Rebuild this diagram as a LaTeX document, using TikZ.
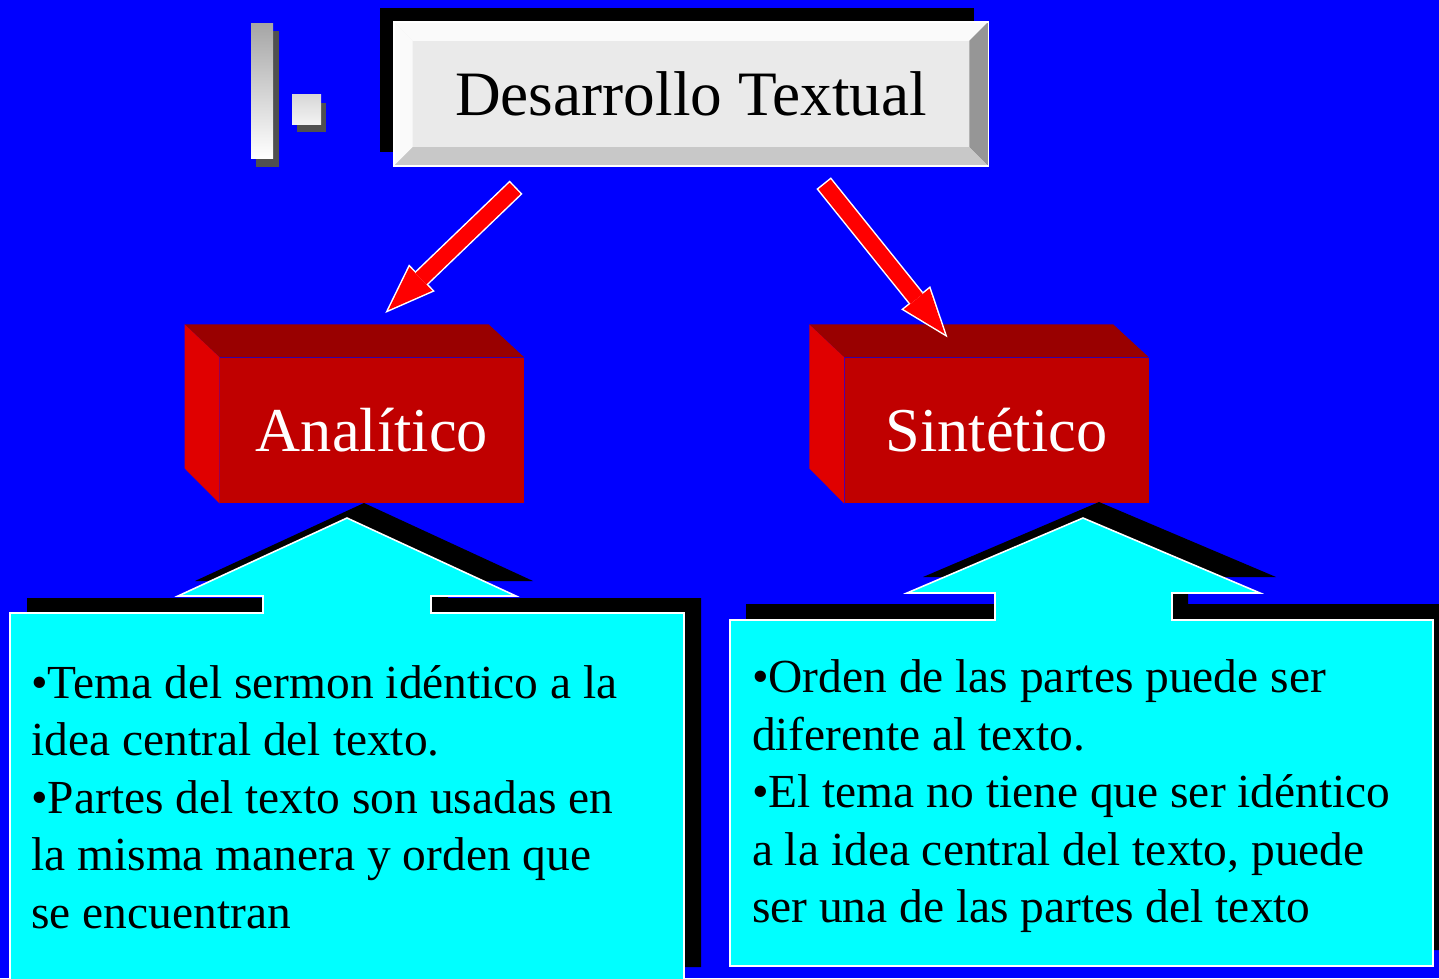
\documentclass[tikz,border=0pt]{standalone}
\usepackage{fontspec}
\setmainfont{Liberation Serif}
\usetikzlibrary{arrows.meta,positioning,calc,shadows}
\definecolor{SlideBlue} {RGB}{0,  0,  255}
\definecolor{BoxTop}    {RGB}{153,0,  0}
\definecolor{BoxSide}   {RGB}{224,0,  0}
\definecolor{BoxFront}  {RGB}{192,0,  0}
\definecolor{NoteCyan}  {RGB}{0,  255,255}
\definecolor{PlateFace} {RGB}{234,234,234}
\definecolor{BevelLight}{RGB}{250,250,250}
\definecolor{BevelLow}  {RGB}{200,200,200}
\definecolor{BevelDark} {RGB}{150,150,150}
\definecolor{IconGray}  {RGB}{165,165,165}
\definecolor{IconLight} {RGB}{215,215,215}
\definecolor{IconShadow}{RGB}{80, 80, 80}

\begin{document}
\begin{tikzpicture}[x=0.02cm,y=-0.02cm,
    plate/.style={fill=PlateFace,minimum width=11.88cm,minimum height=2.87cm,inner sep=0pt,
      font=\fontsize{36}{40}\selectfont,
      drop shadow={shadow xshift=-0.28cm,shadow yshift=0.28cm,fill=black,opacity=1}},
    redbox/.style={fill=BoxFront,text=white,minimum width=6.08cm,minimum height=2.91cm,
      inner sep=0pt,font=\fontsize{35.5}{40}\selectfont},
    bigarrow/.style={red,line width=0.312cm,
      -{Triangle[length=0.9cm,width=0.66cm,line width=0pt]},
      preaction={draw=white,line width=0.372cm,shorten >=-0.087cm,shorten <=-0.03cm,
        -{Triangle[length=1.017cm,width=0.746cm,line width=0pt,color=white,fill=white]}}},
    note/.style={fill=NoteCyan,draw=white,line width=0.9pt},
    noteshadow/.style={fill=black},
    notetext/.style={anchor=base west,align=left,inner sep=0pt,
      font=\fontsize{27}{32.7}\selectfont}]
  \clip (0,0) rectangle (1439,978);
  \fill[SlideBlue] (0,0) rectangle (1439,978);

  % icon at top left
  \fill[IconShadow] (256,31) rectangle (279,167);
  \shade[top color=IconGray,bottom color=white] (251,23) rectangle (273,158);
  \fill[IconShadow] (297,103) rectangle (326,132);
  \shade[top color=IconLight,bottom color=white!95!black] (292,94) rectangle (321,124);

  % title plate
  \node[plate] (title) at (691,94) {Desarrollo Textual};
  \fill[BevelLight] (title.north west) -- (title.north east) -- ++(-19,19)
    -- ($(title.north west)+(19,19)$) -- cycle;
  \fill[BevelLight] (title.north west) -- ++(19,19)
    -- ($(title.south west)+(19,-19)$) -- (title.south west) -- cycle;
  \fill[BevelDark] (title.north east) -- ++(-19,19)
    -- ($(title.south east)+(-19,-19)$) -- (title.south east) -- cycle;
  \fill[BevelLow] (title.south west) -- ++(19,-19)
    -- ($(title.south east)+(-19,-19)$) -- (title.south east) -- cycle;
  \draw[white,line width=0.9pt] (title.north west) rectangle (title.south east);

  % the two red blocks
  \node[redbox] (ana) at (372,430.5) {Analítico};
  \node[redbox,right=6.4cm of ana] (sin) {Sintético};
  \foreach \b in {ana,sin}{
    \fill[BoxTop] (\b.north west) -- ++(-35,-33) -- ++(304,0) -- (\b.north east) -- cycle;
    \fill[BoxSide] (\b.north west) -- ++(-35,-33) -- ++(0,144) -- (\b.south west) -- cycle;
  }

  % red arrows
  \coordinate (ltail) at (515,188.3);
  \coordinate (lhead) at (388.4,310);
  \coordinate (rtail) at (824.6,184.3);
  \coordinate (rhead) at (944.8,334);
  \draw[bigarrow] (ltail) -- (lhead);
  \draw[bigarrow] (rtail) -- (rhead);

  % callouts
  \path[noteshadow,shift={(17,-15)}] (10,990) -- (10,613) -- (263,613) -- (263,596) -- (178,596)
    -- (347,518) -- (516,596) -- (431,596) -- (431,613) -- (684,613) -- (684,982) -- cycle;
  \path[note] (10,990) -- (10,613) -- (263,613) -- (263,596) -- (178,596)
    -- (347,518) -- (516,596) -- (431,596) -- (431,613) -- (684,613) -- (684,990) -- cycle;
  \path[noteshadow,shift={(16,-16)}] (730,966) -- (730,620) -- (995,620) -- (995,593) -- (907,593)
    -- (1083,518) -- (1260,593) -- (1172,593) -- (1172,620) -- (1433,620) -- (1433,966) -- cycle;
  \path[note] (730,966) -- (730,620) -- (995,620) -- (995,593) -- (907,593)
    -- (1083,518) -- (1260,593) -- (1172,593) -- (1172,620) -- (1433,620) -- (1433,966) -- cycle;

  % base of a multi-line node is its last line
  \node[notetext] (anatext) at (31,928.3)
    {•Tema del sermon idéntico a la\\idea central del texto.\\•Partes del texto son usadas en\\la misma manera y orden que\\se encuentran};
  \node[notetext] (sintext) at (751.7,922.7)
    {•Orden de las partes puede ser\\diferente al texto.\\•El tema no tiene que ser idéntico\\a la idea central del texto, puede\\ser una de las partes del texto};
\end{tikzpicture}
\end{document}
